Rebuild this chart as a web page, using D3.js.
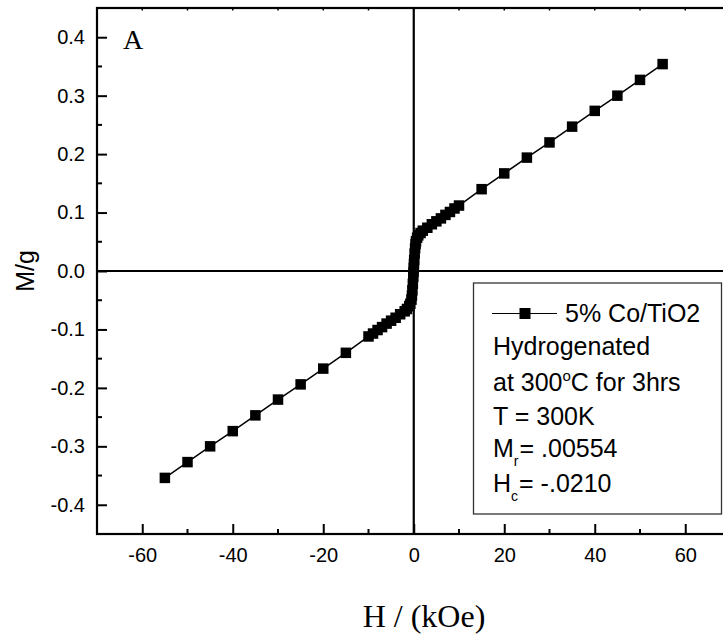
<!DOCTYPE html>
<html lang="en">
<head>
    <meta charset="UTF-8">
    <title>M vs H - 5% Co/TiO2</title>
    <script src="https://d3js.org/d3.v7.min.js"></script>
    <style>
        body { margin: 0; background: #fff; }
        svg { display: block; overflow: hidden; }
        .tick-label { font-family: "Liberation Sans", Arial, sans-serif; font-size: 20px; fill: #000; }
        .legend-text { font-family: "Liberation Sans", Arial, sans-serif; font-size: 25px; fill: #000; }
    </style>
</head>
<body>
    <svg id="chart" width="723" height="637"></svg>

    <script>
        // magnetic field (kOe) and magnetisation (M/g)
        const fieldH = [-55, -50, -45, -40, -35, -30, -25, -20, -15, -10, -9, -8, -7, -6, -5, -4, -3, -2, -1.5, -1,
            -0.75, -0.5, -0.4, -0.3, -0.2, -0.1, -0.05, 0, 0.05, 0.1, 0.2, 0.3, 0.4, 0.5, 0.75, 1, 1.5, 2,
            3, 4, 5, 6, 7, 8, 9, 10, 15, 20, 25, 30, 35, 40, 45, 50, 55];
        const momentM = [-0.354, -0.327, -0.300, -0.274, -0.247, -0.220, -0.194, -0.167, -0.140, -0.112, -0.107, -0.101, -0.096, -0.090, -0.085, -0.080, -0.074, -0.069, -0.065, -0.060,
            -0.056, -0.049, -0.042, -0.033, -0.022, -0.010, -0.002, 0.0055, 0.012, 0.019, 0.030, 0.039, 0.046, 0.051, 0.057, 0.061, 0.065, 0.069,
            0.074, 0.080, 0.085, 0.090, 0.096, 0.101, 0.107, 0.112, 0.140, 0.167, 0.194, 0.220, 0.247, 0.274, 0.300, 0.327, 0.354];

        const xMajor = [-60, -40, -20, 0, 20, 40, 60];
        const xMinor = [-50, -30, -10, 10, 30, 50];
        const yMajor = [-0.4, -0.3, -0.2, -0.1, 0.0, 0.1, 0.2, 0.3, 0.4];
        const yMinor = [-0.35, -0.25, -0.15, -0.05, 0.05, 0.15, 0.25, 0.35];

        const legendLines = ['Hydrogenated', 'at 300', 'T = 300K'];

        const svg = d3.select('#chart');

        const pLeft = 97, pRight = 730.5, pTop = 8, pBottom = 534;

        const x = d3.scaleLinear().domain([-70, 70]).range([pLeft, pRight]);
        const y = d3.scaleLinear().domain([-0.45, 0.45]).range([pBottom, pTop]);

        // frame
        svg.append('rect')
            .attr('x', pLeft).attr('y', pTop)
            .attr('width', pRight - pLeft).attr('height', pBottom - pTop)
            .attr('fill', 'none').attr('stroke', '#000').attr('stroke-width', 2.2);

        // zero cross lines
        svg.append('line')
            .attr('x1', x(0)).attr('x2', x(0)).attr('y1', pTop).attr('y2', pBottom)
            .attr('stroke', '#000').attr('stroke-width', 2.2);
        svg.append('line')
            .attr('x1', pLeft).attr('x2', pRight).attr('y1', y(0)).attr('y2', y(0))
            .attr('stroke', '#000').attr('stroke-width', 2.2);

        // bottom axis: ticks inward
        const xAxis = d3.axisBottom(x).tickValues(xMajor).tickSizeInner(-10).tickSizeOuter(0).tickPadding(14)
            .tickFormat(d3.format('d'));
        const gx = svg.append('g').attr('transform', `translate(0,${pBottom})`).call(xAxis);
        gx.select('.domain').remove();
        gx.selectAll('.tick line').attr('stroke-width', 2);
        gx.selectAll('.tick text').attr('class', 'tick-label').attr('fill', '#000')
            .text(d => d < 0 ? '-' + Math.abs(d) : d);
        svg.append('g').selectAll('line').data(xMinor).join('line')
            .attr('x1', d => x(d)).attr('x2', d => x(d))
            .attr('y1', pBottom).attr('y2', pBottom - 5)
            .attr('stroke', '#000').attr('stroke-width', 2);

        // top axis: tiny ticks
        svg.append('g').selectAll('line').data(xMajor.concat(xMinor)).join('line')
            .attr('x1', d => x(d)).attr('x2', d => x(d))
            .attr('y1', pTop).attr('y2', pTop + 2.5)
            .attr('stroke', '#000').attr('stroke-width', 1.5);

        // left axis
        const yAxis = d3.axisLeft(y).tickValues(yMajor).tickSizeInner(-10).tickSizeOuter(0).tickPadding(12)
            .tickFormat(d => (d < 0 ? '-' : '') + Math.abs(d).toFixed(1));
        const gy = svg.append('g').attr('transform', `translate(${pLeft},0)`).call(yAxis);
        gy.select('.domain').remove();
        gy.selectAll('.tick line').attr('stroke-width', 2);
        gy.selectAll('.tick text').attr('class', 'tick-label').attr('fill', '#000');
        svg.append('g').selectAll('line').data(yMinor).join('line')
            .attr('x1', pLeft).attr('x2', pLeft + 5)
            .attr('y1', d => y(d)).attr('y2', d => y(d))
            .attr('stroke', '#000').attr('stroke-width', 2);

        // axis titles
        svg.append('text')
            .attr('transform', `translate(34,${y(0)}) rotate(-90)`)
            .attr('text-anchor', 'middle')
            .attr('font-family', '"Liberation Sans", Arial, sans-serif')
            .attr('font-size', 25)
            .text('M/g');
        svg.append('text')
            .attr('x', 424).attr('y', 627)
            .attr('text-anchor', 'middle')
            .attr('font-family', '"Liberation Serif", "Times New Roman", serif')
            .attr('font-size', 32)
            .text('H / (kOe)');
        svg.append('text')
            .attr('x', 123).attr('y', 49)
            .attr('font-family', '"Liberation Serif", "Times New Roman", serif')
            .attr('font-size', 28)
            .text('A');

        // data line + square markers
        const pts = fieldH.map((h, i) => [h, momentM[i]]);
        svg.append('path')
            .datum(pts)
            .attr('fill', 'none').attr('stroke', '#000').attr('stroke-width', 1.5)
            .attr('d', d3.line().x(d => x(d[0])).y(d => y(d[1])));
        const sq = 10.5;
        svg.append('g').selectAll('rect').data(pts).join('rect')
            .attr('x', d => x(d[0]) - sq / 2).attr('y', d => y(d[1]) - sq / 2)
            .attr('width', sq).attr('height', sq)
            .attr('fill', '#000');

        // legend
        const lg = svg.append('g');
        lg.append('rect')
            .attr('x', 473.5).attr('y', 283).attr('width', 248).attr('height', 231)
            .attr('fill', '#fff').attr('stroke', '#333').attr('stroke-width', 1.3);
        lg.append('line')
            .attr('x1', 492).attr('x2', 557).attr('y1', 313.5).attr('y2', 313.5)
            .attr('stroke', '#000').attr('stroke-width', 1.2);
        lg.append('rect')
            .attr('x', 525 - 5.5).attr('y', 313.5 - 5.5).attr('width', 11).attr('height', 11)
            .attr('fill', '#000');
        lg.append('text').attr('class', 'legend-text').attr('x', 565).attr('y', 322).text('5% Co/TiO2');

        const baselines = [354.5, 391, 425];
        legendLines.forEach((t, i) => {
            const txt = lg.append('text').attr('class', 'legend-text').attr('x', 493).attr('y', baselines[i]).text(t);
            if (i === 1) {
                txt.append('tspan').attr('dy', -10).attr('font-size', 15).text('o');
                txt.append('tspan').attr('dy', 10).text('C for 3hrs');
            }
        });

        const mr = lg.append('text').attr('class', 'legend-text').attr('x', 493).attr('y', 457).text('M');
        mr.append('tspan').attr('dy', 9).attr('font-size', 14).text('r');
        mr.append('tspan').attr('dy', -9).attr('dx', 1).text('= .00554');

        const hc = lg.append('text').attr('class', 'legend-text').attr('x', 493).attr('y', 492).text('H');
        hc.append('tspan').attr('dy', 9).attr('font-size', 14).text('c');
        hc.append('tspan').attr('dy', -9).attr('dx', 1).text('= -.0210');
    </script>
</body>
</html>
